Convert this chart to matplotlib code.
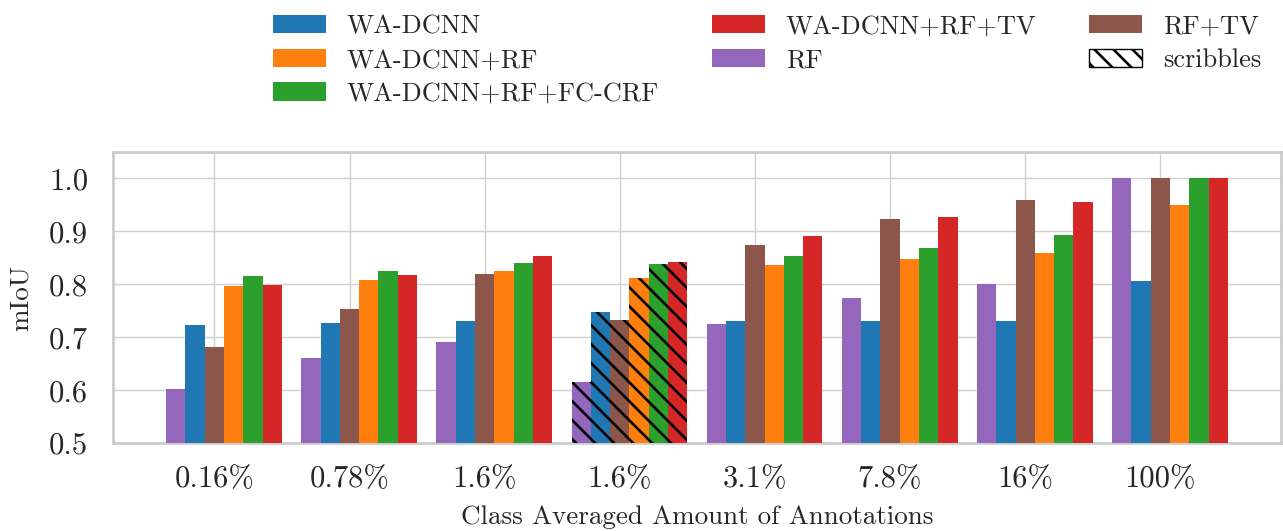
import matplotlib
matplotlib.use("Agg")
import matplotlib.pyplot as plt
from matplotlib.patches import Patch
import numpy as np

DPI = 114
k = 100.0 / DPI  # keep pixel sizes as designed for 100 dpi

plt.rcParams['font.family'] = ['cmr10', 'DejaVu Serif']
plt.rcParams['mathtext.fontset'] = 'cm'
plt.rcParams['axes.formatter.use_mathtext'] = True
plt.rcParams['hatch.linewidth'] = 1.9 * k

categories = ["0.16%", "0.78%", "1.6%", "1.6%", "3.1%", "7.8%", "16%", "100%"]
hatched_group = 3

rf = [0.602, 0.661, 0.691, 0.615, 0.725, 0.775, 0.801, 1.0]
wa_dcnn = [0.723, 0.727, 0.731, 0.748, 0.731, 0.731, 0.731, 0.807]
rf_tv = [0.682, 0.754, 0.820, 0.733, 0.875, 0.923, 0.959, 1.0]
wa_dcnn_rf = [0.796, 0.809, 0.826, 0.811, 0.837, 0.847, 0.860, 0.949]
wa_dcnn_rf_fccrf = [0.815, 0.826, 0.841, 0.839, 0.853, 0.868, 0.894, 1.0]
wa_dcnn_rf_tv = [0.798, 0.818, 0.854, 0.843, 0.891, 0.927, 0.955, 1.0]

series = [
    ("RF", rf, "#9467bd"),
    ("WA-DCNN", wa_dcnn, "#1f77b4"),
    ("RF+TV", rf_tv, "#8c564b"),
    ("WA-DCNN+RF", wa_dcnn_rf, "#ff7f0e"),
    ("WA-DCNN+RF+FC-CRF", wa_dcnn_rf_fccrf, "#2ca02c"),
    ("WA-DCNN+RF+TV", wa_dcnn_rf_tv, "#d62728"),
]

fig = plt.figure(figsize=(1283 / DPI, 531 / DPI), dpi=DPI)
ax = fig.add_axes([0.0881, 0.1657, 0.9103, 0.548])

x = np.arange(len(categories))
w = 1.0 / 7
containers = {}
for i, (name, vals, col) in enumerate(series):
    bc = ax.bar(x + (i - 2) * w, vals, width=w, color=col, edgecolor='black',
                linewidth=0, label=name, zorder=3)
    bc.patches[hatched_group].set_hatch('\\\\')
    containers[name] = bc

ax.set_ylim(0.5, 1.05)
ax.set_yticks([0.5, 0.6, 0.7, 0.8, 0.9, 1.0])
ax.set_yticklabels(["0.5", "0.6", "0.7", "0.8", "0.9", "1.0"])
ax.set_xticks(x)
ax.set_xticklabels(categories)
ax.tick_params(axis='both', length=0, labelsize=22 * k, labelcolor='0.15')
ax.tick_params(axis='x', pad=16 * k)
ax.tick_params(axis='y', pad=18 * k)
ax.grid(True, color='#d0d0d0', linewidth=1.0 * k, zorder=0)
ax.set_axisbelow(True)
for s in ax.spines.values():
    s.set_color('#cccccc')
    s.set_linewidth(2.0 * k)

ax.set_ylabel("mIoU", fontsize=19.5 * k, color='0.15', labelpad=12 * k)
ax.set_xlabel("Class Averaged Amount of Annotations", fontsize=19.5 * k,
              color='0.15', labelpad=9 * k)

order = ["WA-DCNN", "WA-DCNN+RF", "WA-DCNN+RF+FC-CRF", "WA-DCNN+RF+TV", "RF", "RF+TV"]
handles = [containers[n] for n in order]
labels = list(order)
handles.append(Patch(facecolor='white', edgecolor='black', hatch='\\\\', linewidth=1.0 * k))
labels.append("scribbles")
fig.legend(handles, labels, loc='upper center', bbox_to_anchor=(0.598, 1.017),
           ncol=3, frameon=False, fontsize=19 * k, labelspacing=0.38,
           handletextpad=0.8, columnspacing=2.0, labelcolor='0.15')

fig.savefig("out.png", dpi=DPI)
